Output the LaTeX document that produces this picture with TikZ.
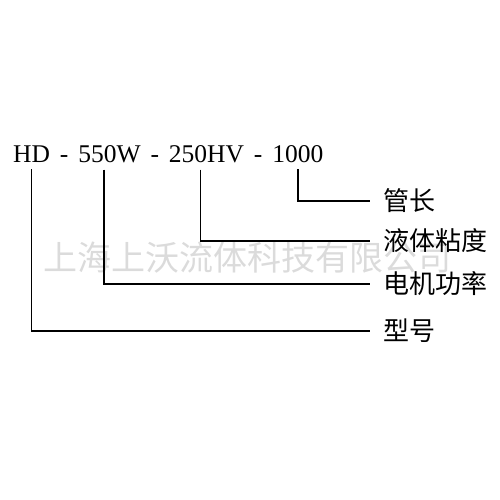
\documentclass[tikz,border=0pt]{standalone}
\usepackage{fontspec}
\setmainfont{Liberation Serif}
\newfontfamily\cjk{Noto Sans CJK SC}
\usetikzlibrary{positioning}

\begin{document}
\begin{tikzpicture}[x=1pt, y=1pt, node distance=9.5pt,
    every node/.append style={align=center},
    part/.style={inner xsep=0pt, inner ysep=7pt, font=\fontsize{25.5}{26}\selectfont},
    lab/.style={inner ysep=0pt, inner xsep=13pt, anchor=west, font=\cjk\fontsize{26}{26}\selectfont},
    mark wm/.style={text=black!14, font=\cjk\fontsize{34}{34}\selectfont},
    wire/.style={line width=1.5pt}]
   \useasboundingbox (0,0) rectangle (500,-500);
   \node [mark wm] (WM) at (247,-258) {上海上沃流体科技有限公司};

   \node [part, anchor=base west] (HD) at (13,-162) {HD};
   \node [part, base right=of HD] (d1) {-};
   \node [part, base right=of d1] (W) {550W};
   \node [part, base right=of W] (d2) {-};
   \node [part, base right=of d2] (HV) {250HV};
   \node [part, base right=of HV] (d3) {-};
   \node [part, base right=of d3] (L) {1000};

   \node [lab] (len) at (370,-201) {管长};
   \node [lab] (vis) at (370,-241) {液体粘度};
   \node [lab] (pow) at (370,-284) {电机功率};
   \node [lab] (typ) at (370,-331) {型号};

   \draw[wire] (L.south) |- (len.west);
   \draw[wire] ([xshift=-6pt]HV.south) |- (vis.west);
   \draw[wire] ([xshift=-5.5pt]W.south) |- (pow.west);
   \draw[wire] (HD.south) |- (typ.west);
\end{tikzpicture}
\end{document}
